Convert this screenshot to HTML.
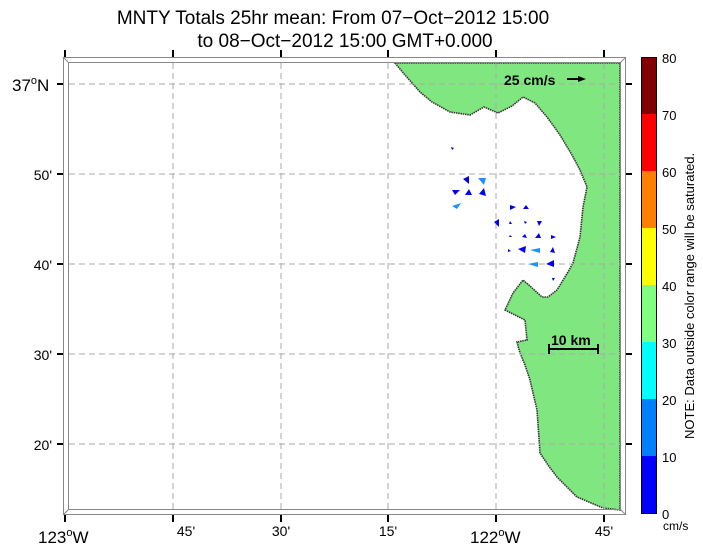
<!DOCTYPE html>
<html><head><style>body{margin:0;background:#fff}svg{display:block;font-family:"Liberation Sans",Arial,sans-serif}</style></head>
<body>
<svg width="703" height="548" viewBox="0 0 703 548">
<text x="333" y="24" font-size="19" text-anchor="middle">MNTY Totals 25hr mean: From 07−Oct−2012 15:00</text>
<text x="345" y="47" font-size="19" text-anchor="middle">to 08−Oct−2012 15:00 GMT+0.000</text>
<!-- land -->
<polygon fill="#80e680" stroke="#333" stroke-width="1.6" stroke-dasharray="1.5 0.8" points="395,63 405,75 420,92 432,102 450,112 470,115 484,107 498,113 512,106 523,97 535,103 547,117 560,135 572,155 580,170 587,187 583,207 580,237 573,263 568,272 557,290 548,297 542,297 530,286 523,280 513,293 505,310 515,315 525,320 527,340 517,342 520,353 525,365 530,380 537,410 540,453 548,465 557,477 577,497 603,508 620,510 620,63"/>
<!-- grid -->
<g stroke="#aaa" stroke-dasharray="6 4" stroke-width="1">
<line x1="173" y1="63" x2="173" y2="509"/><line x1="281" y1="63" x2="281" y2="509"/><line x1="388" y1="63" x2="388" y2="509"/><line x1="496" y1="63" x2="496" y2="509"/><line x1="604" y1="63" x2="604" y2="509"/>
<line x1="69" y1="84" x2="621" y2="84"/><line x1="69" y1="174" x2="621" y2="174"/><line x1="69" y1="264" x2="621" y2="264"/><line x1="69" y1="354" x2="621" y2="354"/><line x1="69" y1="444" x2="621" y2="444"/>
</g>
<!-- frame -->
<g fill="none" stroke="#888" stroke-width="1">
<rect x="63.5" y="57.5" width="562" height="457"/>
<rect x="68.5" y="62.5" width="552" height="447"/>
<line x1="63" y1="57" x2="69" y2="63"/><line x1="626" y1="57" x2="620" y2="63"/><line x1="63" y1="515" x2="69" y2="509"/><line x1="626" y1="515" x2="620" y2="509"/>
</g>
<g stroke="#000" stroke-width="2">
<line x1="65" y1="50" x2="65" y2="57"/><line x1="173" y1="50" x2="173" y2="57"/><line x1="281" y1="50" x2="281" y2="57"/><line x1="388" y1="50" x2="388" y2="57"/><line x1="496" y1="50" x2="496" y2="57"/><line x1="604" y1="50" x2="604" y2="57"/>
<line x1="65" y1="515" x2="65" y2="522"/><line x1="173" y1="515" x2="173" y2="522"/><line x1="281" y1="515" x2="281" y2="522"/><line x1="388" y1="515" x2="388" y2="522"/><line x1="496" y1="515" x2="496" y2="522"/><line x1="604" y1="515" x2="604" y2="522"/>
<line x1="57" y1="84" x2="63" y2="84"/><line x1="57" y1="174" x2="63" y2="174"/><line x1="57" y1="264" x2="63" y2="264"/><line x1="57" y1="354" x2="63" y2="354"/><line x1="57" y1="444" x2="63" y2="444"/>
<line x1="626" y1="84" x2="632" y2="84"/><line x1="626" y1="174" x2="632" y2="174"/><line x1="626" y1="264" x2="632" y2="264"/><line x1="626" y1="354" x2="632" y2="354"/><line x1="626" y1="444" x2="632" y2="444"/>
</g>
<g font-size="14">
<text x="12" y="91" font-size="17">37<tspan dy="-7" font-size="11">o</tspan><tspan dy="7">N</tspan></text>
<text x="52" y="180" text-anchor="end">50'</text><text x="52" y="270" text-anchor="end">40'</text><text x="52" y="360" text-anchor="end">30'</text><text x="52" y="450" text-anchor="end">20'</text>
<text x="38" y="543" font-size="17">123<tspan dy="-7" font-size="11">o</tspan><tspan dy="7">W</tspan></text>
<text x="186" y="536" text-anchor="middle">45'</text><text x="281" y="536" text-anchor="middle">30'</text><text x="388" y="536" text-anchor="middle">15'</text>
<text x="470" y="543" font-size="17">122<tspan dy="-7" font-size="11">o</tspan><tspan dy="7">W</tspan></text>
<text x="604" y="536" text-anchor="middle">45'</text>
</g>
<!-- scale -->
<text x="504" y="85" font-size="14" font-weight="bold">25 cm/s</text>
<line x1="567" y1="79" x2="580" y2="79" stroke="#000" stroke-width="2"/><polygon points="586,79 578,76 578,82"/>
<text x="551" y="345" font-size="14" font-weight="bold">10 km</text>
<g stroke="#000" stroke-width="2"><line x1="549" y1="349" x2="598" y2="349"/><line x1="549" y1="344" x2="549" y2="354"/><line x1="598" y1="344" x2="598" y2="354"/></g>
<!-- vectors -->
<g fill="#0000ee">
<polygon points="451,147 454,148 452,150"/>
<polygon points="463,179 469,176 469,184"/>
<polygon points="452,190 460,190 455,195"/>
<polygon points="465,195 469,189 472,195"/>
<polygon points="479,194 484,188 486,196"/>
<polygon points="510,205 516,207 510,210"/>
<polygon points="523,209 526,205 529,209"/>
<polygon points="494,222 499,219 499,227"/>
<polygon points="510,221 512,224 509,224"/>
<polygon points="524,221 527,222 525,224"/>
<polygon points="537,221 542,221 539,226"/>
<polygon points="510,235 512,237 509,237"/>
<polygon points="522,237 525,234 527,238"/>
<polygon points="535,238 539,233 541,238"/>
<polygon points="551,235 556,237 551,239"/>
<polygon points="508,249 511,251 508,252"/>
<polygon points="518,249 526,246 525,253"/>
<polygon points="550,252 553,247 555,253"/>
<polygon points="546,264 554,260 554,267"/>
<polygon points="552,278 555,278 553,281"/>
</g>
<g fill="#1e90ff">
<polygon points="478,178 486,178 484,185"/>
<polygon points="452,206 461,203 457,209"/>
<polygon points="530,250 540,248 540,253"/>
<polygon points="528,264 538,262 538,267"/>
</g>
<!-- colorbar -->
<g>
<rect x="641" y="57" width="15" height="57" fill="#800000"/>
<rect x="641" y="114" width="15" height="57" fill="#ff0000"/>
<rect x="641" y="171" width="15" height="57" fill="#ff8000"/>
<rect x="641" y="228" width="15" height="57" fill="#ffff00"/>
<rect x="641" y="285" width="15" height="57" fill="#80ff80"/>
<rect x="641" y="342" width="15" height="57" fill="#00ffff"/>
<rect x="641" y="399" width="15" height="57" fill="#0080ff"/>
<rect x="641" y="456" width="15" height="57" fill="#0000ff"/>
<rect x="641.5" y="57.5" width="15" height="456" fill="none" stroke="#000"/>
</g>
<g font-size="13" >
<text x="662" y="63">80</text><text x="662" y="120">70</text><text x="662" y="177">60</text><text x="662" y="234">50</text><text x="662" y="291">40</text><text x="662" y="348">30</text><text x="662" y="405">20</text><text x="662" y="462">10</text><text x="662" y="519">0</text>
<text x="663" y="530" font-size="12">cm/s</text>
</g>
<text transform="translate(694,439) rotate(-90)" font-size="13">NOTE: Data outside color range will be saturated.</text>
</svg>
</body></html>
